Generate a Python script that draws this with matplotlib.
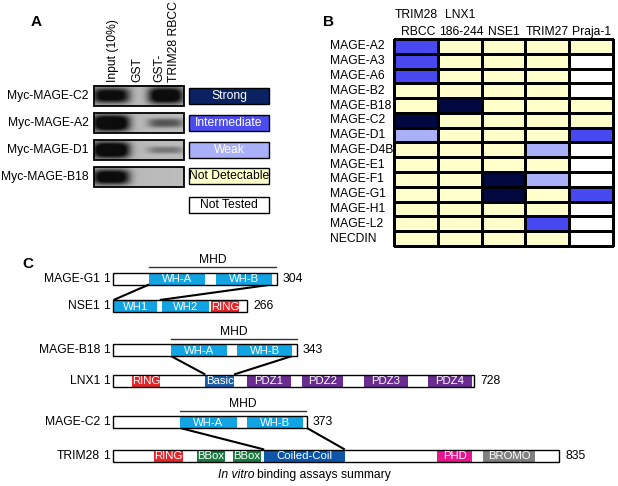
import numpy as np
import matplotlib
matplotlib.use("Agg")
import matplotlib.pyplot as plt
from matplotlib.patches import Rectangle
from matplotlib.colors import ListedColormap

plt.rcParams['font.family'] = ['Liberation Sans', 'DejaVu Sans']

# ---------------- data ----------------
# Panel A: pull-down blot, band strength per lane (Input, GST, GST-TRIM28 RBCC)
blot_lanes = ['Input (10%)', 'GST', 'GST-', 'TRIM28 RBCC']
blot_rows = ['Myc-MAGE-C2', 'Myc-MAGE-A2', 'Myc-MAGE-D1', 'Myc-MAGE-B18']
band_input = [0.85, 1.0, 1.0, 0.9]
band_gst = [0.0, 0.0, 0.0, 0.0]
band_trim = [0.95, 0.45, 0.3, 0.0]

legend_labels = ['Strong', 'Intermediate', 'Weak', 'Not Detectable', 'Not Tested']

# Panel B: binding matrix (3 strong, 2 intermediate, 1 weak, 0 not detectable, -1 not tested)
partners = ['TRIM28\nRBCC', 'LNX1\n186-244', 'NSE1', 'TRIM27', 'Praja-1']
mages = ['MAGE-A2', 'MAGE-A3', 'MAGE-A6', 'MAGE-B2', 'MAGE-B18', 'MAGE-C2',
         'MAGE-D1', 'MAGE-D4B', 'MAGE-E1', 'MAGE-F1', 'MAGE-G1', 'MAGE-H1',
         'MAGE-L2', 'NECDIN']
binding = np.array([
    [2, 0, 0, 0, 0],
    [2, 0, 0, 0, -1],
    [2, 0, 0, 0, -1],
    [0, 0, 0, 0, -1],
    [0, 3, 0, 0, 0],
    [3, 0, 0, 0, 0],
    [1, 0, 0, 0, 2],
    [0, 0, 0, 1, -1],
    [0, 0, 0, 0, -1],
    [0, 0, 3, 1, -1],
    [0, 0, 3, 0, 2],
    [0, 0, 0, 0, -1],
    [0, 0, 0, 2, -1],
    [0, 0, 0, 0, -1],
])

# Panel C: protein lengths (aa) and domains (start, end, label, kind)
proteins = ['MAGE-G1', 'NSE1', 'MAGE-B18', 'LNX1', 'MAGE-C2', 'TRIM28']
lengths = [304, 266, 343, 728, 373, 835]
domains = {
    'MAGE-G1': [(67, 171, 'WH-A', 'wh'), (191, 295, 'WH-B', 'wh')],
    'NSE1': [(1, 87, 'WH1', 'wh'), (97, 191, 'WH2', 'wh'), (195, 250, 'RING', 'ring')],
    'MAGE-B18': [(108, 213, 'WH-A', 'wh'), (231, 334, 'WH-B', 'wh')],
    'LNX1': [(38, 95, 'RING', 'ring'), (186, 244, 'Basic', 'basic'),
             (270, 359, 'PDZ1', 'pdz'), (381, 464, 'PDZ2', 'pdz'),
             (506, 595, 'PDZ3', 'pdz'), (635, 724, 'PDZ4', 'pdz')],
    'MAGE-C2': [(129, 238, 'WH-A', 'wh'), (258, 365, 'WH-B', 'wh')],
    'TRIM28': [(77, 131, 'RING', 'ring'), (157, 210, 'BBox', 'bbox'),
               (225, 277, 'BBox', 'bbox'), (283, 434, 'Coiled-Coil', 'cc'),
               (607, 672, 'PHD', 'phd'), (693, 790, 'BROMO', 'bromo')],
}
mhd = {'MAGE-G1': (67, 302), 'MAGE-B18': (108, 343), 'MAGE-C2': (129, 371)}
# (MAGE, partner, [(mage aa, partner aa), ...])
links = [('MAGE-G1', 'NSE1', [(67, 1), (295, 93)]),
         ('MAGE-B18', 'LNX1', [(108, 186), (334, 244)]),
         ('MAGE-C2', 'TRIM28', [(129, 283), (373, 434)])]

# ---------------- styles / layout ----------------
dom_colors = {'wh': '#12a3e3', 'ring': '#e3262b', 'basic': '#1c5fa8', 'pdz': '#6a2c91',
              'bbox': '#1a7a40', 'cc': '#0c55a8', 'phd': '#e5158b', 'bromo': '#808080'}
legend_colors = ['#0b2262', '#4b4bf0', '#aab0f8', '#ffffcc', '#ffffff']
legend_text_colors = ['white', 'white', 'white', 'black', 'black']
heat_colors = ['#ffffff', '#ffffcc', '#aab0f8', '#4848f0', '#00083f']

bar_x0 = 113
bar_px = {'MAGE-G1': 164, 'NSE1': 134, 'MAGE-B18': 184, 'LNX1': 361, 'MAGE-C2': 194, 'TRIM28': 446}
bar_y = {'MAGE-G1': 278.5, 'NSE1': 306, 'MAGE-B18': 350, 'LNX1': 380.5, 'MAGE-C2': 422, 'TRIM28': 455.5}
bar_h = 12

fig = plt.figure(figsize=(6.18, 4.86), dpi=100)
ax = fig.add_axes([0, 0, 1, 1])
ax.set_xlim(0, 618)
ax.set_ylim(486, 0)
ax.axis('off')

fs = 8.7

# ---------------- panel A ----------------
ax.text(36, 22, 'A', fontsize=11, fontweight='bold', ha='center', va='center')
for x, lab in zip([113, 137, 159, 174], blot_lanes):
    ax.text(x, 82, lab, rotation=90, ha='center', va='bottom', fontsize=fs)

lane_x = [111, 138, 166]
blot_x0, blot_x1 = 94, 184
row_top = [86, 113, 140, 167]
row_hh = 20
for i, name in enumerate(blot_rows):
    y0 = row_top[i]
    xs = np.linspace(blot_x0, blot_x1, 200)
    ys = np.linspace(y0, y0 + row_hh, 60)
    X, Y = np.meshgrid(xs, ys)
    img = 0.71 + 0.03 * (X - blot_x0) / (blot_x1 - blot_x0)
    yc = y0 + row_hh / 2
    for cx, val in zip(lane_x, [band_input[i], band_gst[i], band_trim[i]]):
        if val <= 0:
            continue
        wy = 1.5 + 7.0 * val
        wx = 19 if cx == lane_x[0] else 18
        prof = val * np.exp(-(np.abs(X - cx) / wx) ** 4) * np.exp(-(np.abs(Y - yc) / wy) ** 3)
        img = img - 0.9 * prof
    ax.imshow(np.clip(img, 0.05, 1), cmap='gray', vmin=0, vmax=1, aspect='auto',
              extent=(blot_x0, blot_x1, y0 + row_hh, y0), interpolation='bilinear', zorder=1)
    ax.add_patch(Rectangle((blot_x0, y0), blot_x1 - blot_x0, row_hh, fill=False,
                           edgecolor='black', lw=1.3, zorder=2))
    ax.text(89, yc, name, ha='right', va='center', fontsize=fs)

leg_y = [88, 115, 142, 168, 197]
for y0, lab, col, tc in zip(leg_y, legend_labels, legend_colors, legend_text_colors):
    ax.add_patch(Rectangle((189, y0), 80, 16, facecolor=col, edgecolor='black', lw=1.0, zorder=2))
    ax.text(229, y0 + 8.3, lab, ha='center', va='center', fontsize=fs, color=tc, zorder=3)

# ---------------- panel B ----------------
ax.text(329, 22, 'B', fontsize=11, fontweight='bold', ha='center', va='center')
xedges = np.linspace(394, 613, len(partners) + 1)
yedges = np.linspace(39, 246, len(mages) + 1)
cmap = ListedColormap(heat_colors)
ax.pcolormesh(xedges, yedges, binding + 1, cmap=cmap, vmin=-0.5, vmax=4.5,
              edgecolors='black', linewidth=0.8, zorder=1)
xc = (xedges[:-1] + xedges[1:]) / 2
for x, lab in zip(xc, partners):
    lines = lab.split('\n')
    if len(lines) == 2:
        ax.text(x, 15, lines[0], ha='center', va='center', fontsize=fs)
        ax.text(x + 2, 32, lines[1], ha='center', va='center', fontsize=fs)
    else:
        ax.text(x, 32, lab, ha='center', va='center', fontsize=fs)
yc = (yedges[:-1] + yedges[1:]) / 2
for y, lab in zip(yc, mages):
    ax.text(330, y, lab, ha='left', va='center', fontsize=fs)

# ---------------- panel C ----------------
ax.text(28, 264, 'C', fontsize=11, fontweight='bold', ha='center', va='center')


def aa2px(name, aa):
    return bar_x0 + bar_px[name] * aa / lengths[proteins.index(name)]


for name, L in zip(proteins, lengths):
    y = bar_y[name]
    top = y - bar_h / 2
    for s, e, lab, kind in domains[name]:
        x0, x1 = aa2px(name, s), aa2px(name, e)
        ax.add_patch(Rectangle((x0, top), x1 - x0, bar_h, facecolor=dom_colors[kind],
                               edgecolor='none', zorder=2))
        ax.text((x0 + x1) / 2, y + 0.5, lab, ha='center', va='center', fontsize=8.2,
                color='white', zorder=4)
    ax.add_patch(Rectangle((bar_x0, top), bar_px[name], bar_h, fill=False,
                           edgecolor='black', lw=1.0, zorder=3))
    ax.text(100, y, name, ha='right', va='center', fontsize=fs)
    ax.text(106, y, '1', ha='center', va='center', fontsize=fs)
    ax.text(bar_x0 + bar_px[name] + 6, y, str(L), ha='left', va='center', fontsize=fs)

for name, (s, e) in mhd.items():
    ly = bar_y[name] - bar_h / 2 - 5.5
    ax.plot([aa2px(name, s), aa2px(name, e)], [ly, ly], color='#333333', lw=1.0)
    ax.text((aa2px(name, s) + aa2px(name, e)) / 2, ly - 7, 'MHD', ha='center',
            va='center', fontsize=fs)

for m, p, pairs in links:
    for am, ap in pairs:
        ax.plot([aa2px(m, am), aa2px(p, ap)],
                [bar_y[m] + bar_h / 2, bar_y[p] - bar_h / 2],
                color='black', lw=1.5, zorder=1, solid_capstyle='butt')

ax.text(218, 475, 'In vitro', ha='left', va='center', fontsize=fs, style='italic')
ax.text(257, 475, 'binding assays summary', ha='left', va='center', fontsize=fs)

fig.savefig('out.png', dpi=100)
